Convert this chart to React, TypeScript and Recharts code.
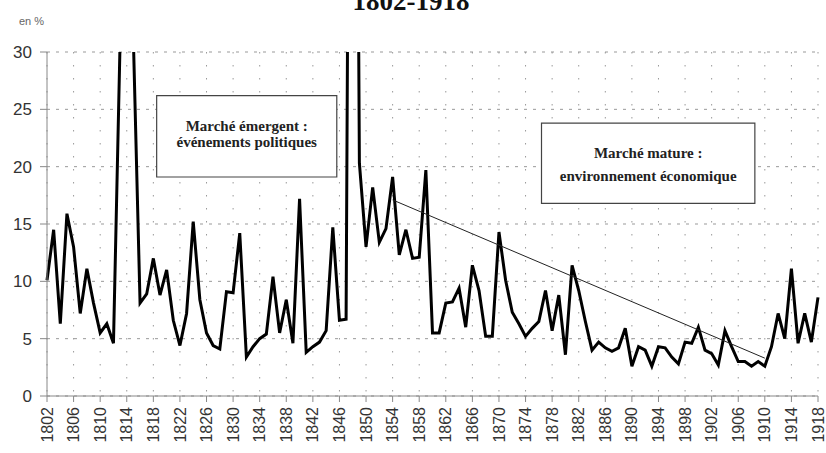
import React from 'react';
import { LineChart, Line, XAxis, YAxis, CartesianGrid, ReferenceArea } from 'recharts';

// yearly rate (en %), 1802 -> 1918; values above 30 are cut by the axis
const firstYear = 1802;
const rates = [
  10.1, 14.5, 6.3, 15.9, 13.0, 7.2, 11.1, 8.1, 5.5, 6.3, // 1802-1811
  4.6, 31, 45, 31, 8.1, 8.9, 12.0, 8.8, 11.0, 6.6, // 1812-1821
  4.4, 7.2, 15.2, 8.4, 5.5, 4.4, 4.1, 9.1, 9.0, 14.2, // 1822-1831
  3.4, 4.3, 5.0, 5.4, 10.4, 5.5, 8.4, 4.6, 17.2, 3.8, // 1832-1841
  4.3, 4.7, 5.7, 14.7, 6.6, 6.7, 120, 20.3, 13.0, 18.2, // 1842-1851
  13.4, 14.6, 19.1, 12.3, 14.5, 12.0, 12.1, 19.7, 5.5, 5.5, // 1852-1861
  8.1, 8.2, 9.4, 6.0, 11.4, 9.2, 5.2, 5.2, 14.3, 10.1, // 1862-1871
  7.3, 6.3, 5.2, 5.9, 6.5, 9.2, 5.7, 8.8, 3.6, 11.4, // 1872-1881
  9.2, 6.5, 4.0, 4.7, 4.2, 3.9, 4.2, 5.9, 2.6, 4.3, // 1882-1891
  4.0, 2.6, 4.3, 4.2, 3.4, 2.8, 4.7, 4.6, 6.0, 4.0, // 1892-1901
  3.7, 2.7, 5.7, 4.3, 3.0, 3.0, 2.6, 3.0, 2.6, 4.3, // 1902-1911
  7.2, 5.0, 11.1, 4.6, 7.2, 4.7, 8.6, // 1912-1918
];

// hand-drawn trend line
const trendYears = [1854, 1910];
const trendValues = [17.1, 3.3];

const yearTicks = [
  1802, 1806, 1810, 1814, 1818, 1822, 1826, 1830, 1834, 1838, 1842, 1846, 1850, 1854, 1858,
  1862, 1866, 1870, 1874, 1878, 1882, 1886, 1890, 1894, 1898, 1902, 1906, 1910, 1914, 1918,
];
const valueTicks = [0, 5, 10, 15, 20, 25, 30];

const boxEmergent = { x1: 1818.5, x2: 1845.6, y1: 19.1, y2: 26.2, lines: ['Marché émergent :', 'événements politiques'], offsets: [30, 46] };
const boxMature = { x1: 1876.4, x2: 1908.5, y1: 16.8, y2: 23.8, lines: ['Marché mature :', 'environnement économique'], offsets: [30, 53] };

const data = rates.map((rate, i) => {
  const year = firstYear + i;
  const t = trendYears.indexOf(year);
  return { year, rate, trend: t >= 0 ? trendValues[t] : null };
});

const YearTick = ({ x, y, payload }: any) => (
  <text
    x={x}
    y={y}
    transform={`rotate(-90, ${x}, ${y})`}
    textAnchor="end"
    dy="0.35em"
    fontSize={16}
    fontFamily="'Liberation Sans', Arial, sans-serif"
    fill="#333"
  >
    {payload.value}
  </text>
);

const boxText = (lines: string[], offsets: number[]) => (props: any) => {
  const { x, y, width } = props.viewBox;
  return (
    <g>
      {lines.map((t, i) => (
        <text
          key={i}
          x={x + width / 2}
          y={y + offsets[i]}
          textAnchor="middle"
          dominantBaseline="central"
          fontSize={15}
          fontWeight="bold"
          fontFamily="'Liberation Serif', 'Times New Roman', serif"
          fill="#222"
        >
          {t}
        </text>
      ))}
    </g>
  );
};

const App = () => {
  return (
    <div style={{ position: 'absolute', left: 0, top: 0, width: 826, height: 453, background: '#fff' }}>
      <LineChart width={826} height={453} data={data} margin={{ top: 52, right: 8, left: 0, bottom: 0 }}>
        <CartesianGrid vertical={false} stroke="#999" strokeDasharray="3 6" />
        <CartesianGrid horizontal={false} stroke="#999" strokeDasharray="1.5 11.5" />
        <XAxis
          dataKey="year"
          type="number"
          domain={[1802, 1918]}
          ticks={yearTicks}
          interval={0}
          height={57}
          stroke="#888"
          tickSize={6}
          tickMargin={5}
          tick={<YearTick />}
        />
        <YAxis
          type="number"
          domain={[0, 30]}
          ticks={valueTicks}
          allowDataOverflow
          width={47}
          stroke="#888"
          tickSize={7}
          tickMargin={8}
          tick={{ fontSize: 17, fill: '#333', fontFamily: "'Liberation Sans', Arial, sans-serif" }}
        />
        {[boxEmergent, boxMature].map((b, i) => (
          <ReferenceArea
            key={i}
            x1={b.x1}
            x2={b.x2}
            y1={b.y1}
            y2={b.y2}
            fill="#fff"
            fillOpacity={1}
            stroke="#444"
            strokeWidth={1.2}
            label={{ content: boxText(b.lines, b.offsets) }}
          />
        ))}
        <Line type="linear" dataKey="rate" stroke="#000" strokeWidth={3} dot={false} isAnimationActive={false} />
        <Line
          type="linear"
          dataKey="trend"
          stroke="#222"
          strokeWidth={1}
          dot={false}
          connectNulls
          isAnimationActive={false}
        />
      </LineChart>
      <svg width={826} height={453} style={{ position: 'absolute', left: 0, top: 0, pointerEvents: 'none' }}>
        <text x={411} y={10} textAnchor="middle" fontSize={27} fontWeight="bold" fontFamily="'Liberation Serif', 'Times New Roman', serif" fill="#111">
          1802-1918
        </text>
        <text x={19} y={25} fontSize={11} fontFamily="'Liberation Sans', Arial, sans-serif" fill="#666">
          en %
        </text>
      </svg>
    </div>
  );
};

export default App;
